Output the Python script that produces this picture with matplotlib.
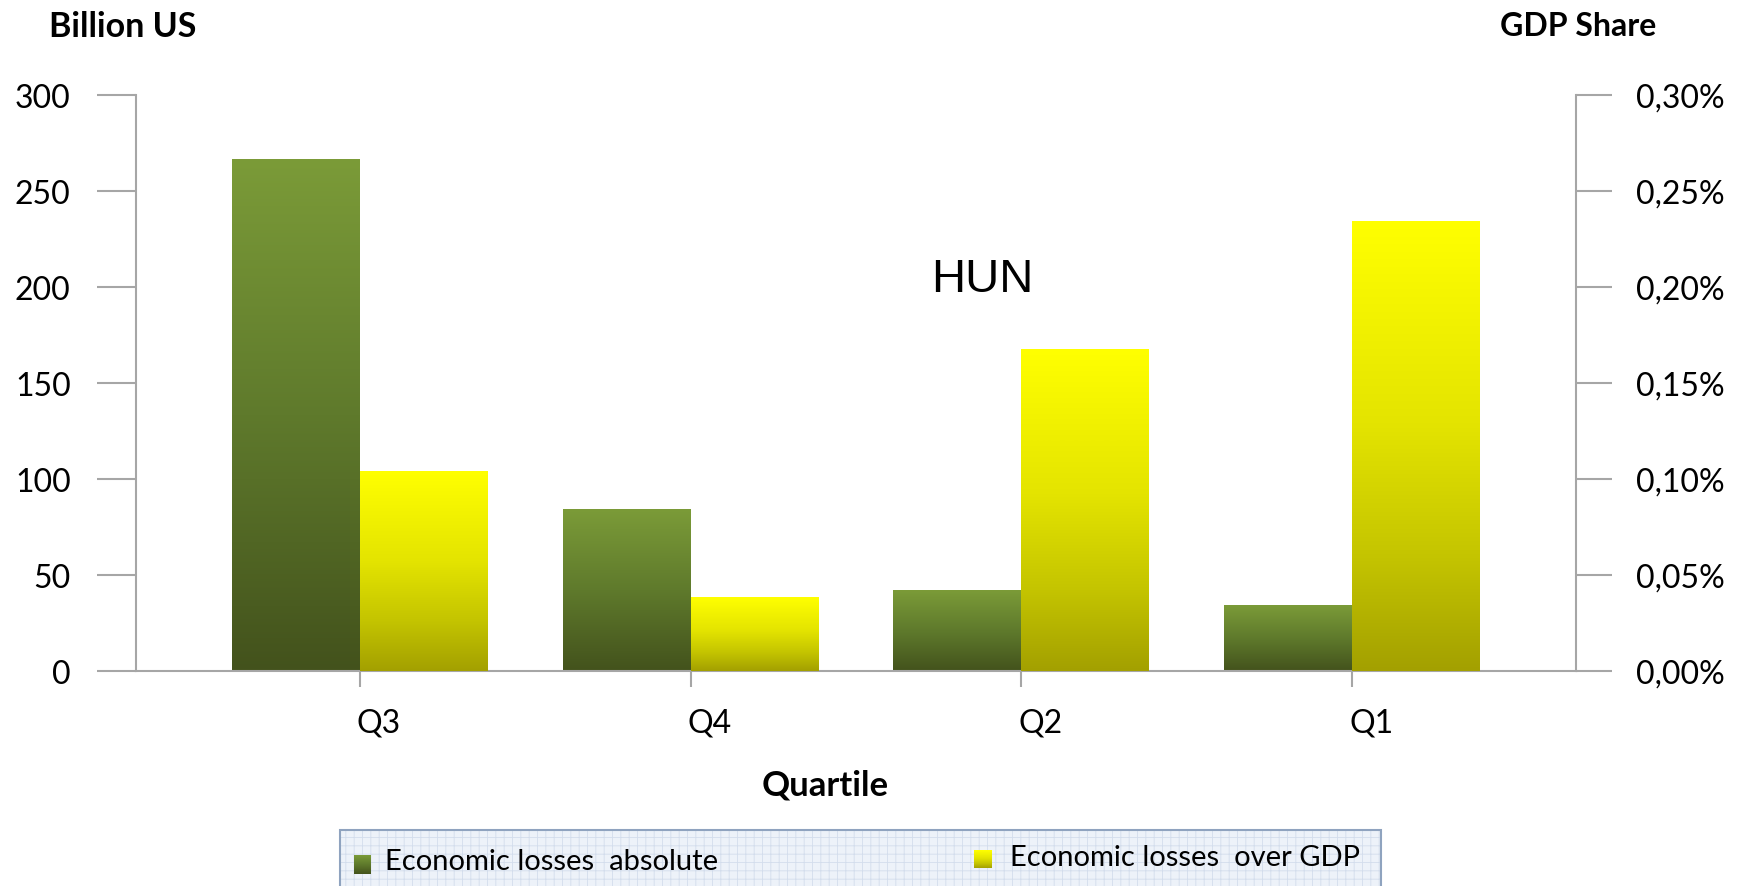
import numpy as np
import matplotlib
matplotlib.use("Agg")
import matplotlib.pyplot as plt
import matplotlib.transforms as mtransforms
from matplotlib.colors import LinearSegmentedColormap
from matplotlib.patches import Rectangle

plt.rcParams['font.family'] = ['Lato', 'DejaVu Sans']
plt.rcParams['hatch.linewidth'] = 0.6

# data
quartiles = ["Q3", "Q4", "Q2", "Q1"]
losses_abs = [266.5, 83.9, 41.8, 34.0]          # billion US
losses_gdp = [0.1041, 0.0381, 0.1677, 0.2343]    # % of GDP
abs_ticks = [0, 50, 100, 150, 200, 250, 300]
gdp_ticks = [0.00, 0.05, 0.10, 0.15, 0.20, 0.25, 0.30]
series_names = ["Economic losses  absolute", "Economic losses  over GDP"]

W, H = 1749, 887
GRAY = "#a6a6a6"

green = LinearSegmentedColormap.from_list("g", ["#43521c", "#5f7a2c", "#7b9b38"])
yellow = LinearSegmentedColormap.from_list(
    "y", [(0, "#a3a000"), (0.25, "#c4c400"), (0.55, "#e4e400"), (1, "#ffff00")])
grad = np.linspace(1, 0, 256).reshape(-1, 1)

fig = plt.figure(figsize=(W / 100, H / 100), dpi=100)
ax = fig.add_axes([136 / W, 1 - 672 / H, (1576 - 136) / W, (672 - 96) / H])
ax2 = ax.twinx()

xs = np.arange(len(quartiles))
w = 0.387
b1 = ax.bar(xs - w / 2, losses_abs, w, color="none", linewidth=0)
b2 = ax2.bar(xs + w / 2, losses_gdp, w, color="none", linewidth=0)

# gradient fill, one per bar
for bars, cmap, a in ((b1, green, ax), (b2, yellow, ax2)):
    for b in bars:
        a.imshow(grad, cmap=cmap, vmin=0, vmax=1, aspect="auto",
                 interpolation="bilinear", zorder=2,
                 extent=[b.get_x(), b.get_x() + b.get_width(), 0, b.get_height()])

ax.set_xlim(-0.677, 3.677)
ax.set_ylim(0, 300)
ax2.set_ylim(0, 0.30)

for a in (ax, ax2):
    for s in a.spines.values():
        s.set_color(GRAY)
        s.set_linewidth(1.5)
    a.spines["top"].set_visible(False)
ax.spines["right"].set_visible(False)
ax2.spines["left"].set_visible(False)
ax2.spines["bottom"].set_visible(False)

ax.set_xticks(xs)
ax.set_xticklabels(quartiles)
ax.set_yticks(abs_ticks)
ax.set_yticklabels([str(v) for v in abs_ticks])
ax2.set_yticks(gdp_ticks)
ax2.set_yticklabels([f"{v:.2f}%".replace(".", ",") for v in gdp_ticks])

ax.tick_params(axis="x", length=11.5, width=1.5, color=GRAY, pad=15, labelsize=23)
ax.tick_params(axis="y", length=28, width=1.5, color=GRAY, pad=19, labelsize=23)
ax2.tick_params(axis="y", length=26, width=1.5, color=GRAY, pad=17, labelsize=23)

# category labels sit a bit right of their tick
off = mtransforms.ScaledTranslation(0.19, 0, fig.dpi_scale_trans)
for lab in ax.get_xticklabels():
    lab.set_transform(lab.get_transform() + off)

fig.text(49 / W, 1 - 27 / H, "Billion US", ha="left", va="center",
         fontsize=24.5, fontweight="bold")
fig.text(1500 / W, 1 - 26 / H, "GDP Share", ha="left", va="center",
         fontsize=23, fontweight="bold")
fig.text(982 / W, 1 - 280 / H, "HUN", ha="center", va="center",
         fontsize=34, family="Liberation Sans")
fig.text(825 / W, 1 - 786 / H, "Quartile", ha="center", va="center",
         fontsize=25, fontweight="bold")

# legend box
fig.add_artist(Rectangle((340 / W, -0.01), (1381 - 340) / W, (887 - 831) / H + 0.01,
                         transform=fig.transFigure, facecolor="#edf2f9",
                         edgecolor="#d3ddec", hatch="++", linewidth=0))
fig.add_artist(Rectangle((340 / W, -0.01), (1381 - 340) / W, (887 - 831) / H + 0.01,
                         transform=fig.transFigure, facecolor="none",
                         edgecolor="#8fa3bf", linewidth=1.5))

for (x0, y0, x1, y1), cmap in (((354, 856, 371, 875), green), ((974, 851, 992, 869), yellow)):
    m = fig.add_axes([x0 / W, 1 - y1 / H, (x1 - x0) / W, (y1 - y0) / H], zorder=5)
    m.imshow(grad, cmap=cmap, vmin=0, vmax=1, aspect="auto", interpolation="bilinear")
    m.axis("off")

fig.text(385 / W, 1 - 862 / H, series_names[0], ha="left", va="center", fontsize=21)
fig.text(1010 / W, 1 - 858 / H, series_names[1], ha="left", va="center", fontsize=21)

fig.savefig("out.png", dpi=100)
